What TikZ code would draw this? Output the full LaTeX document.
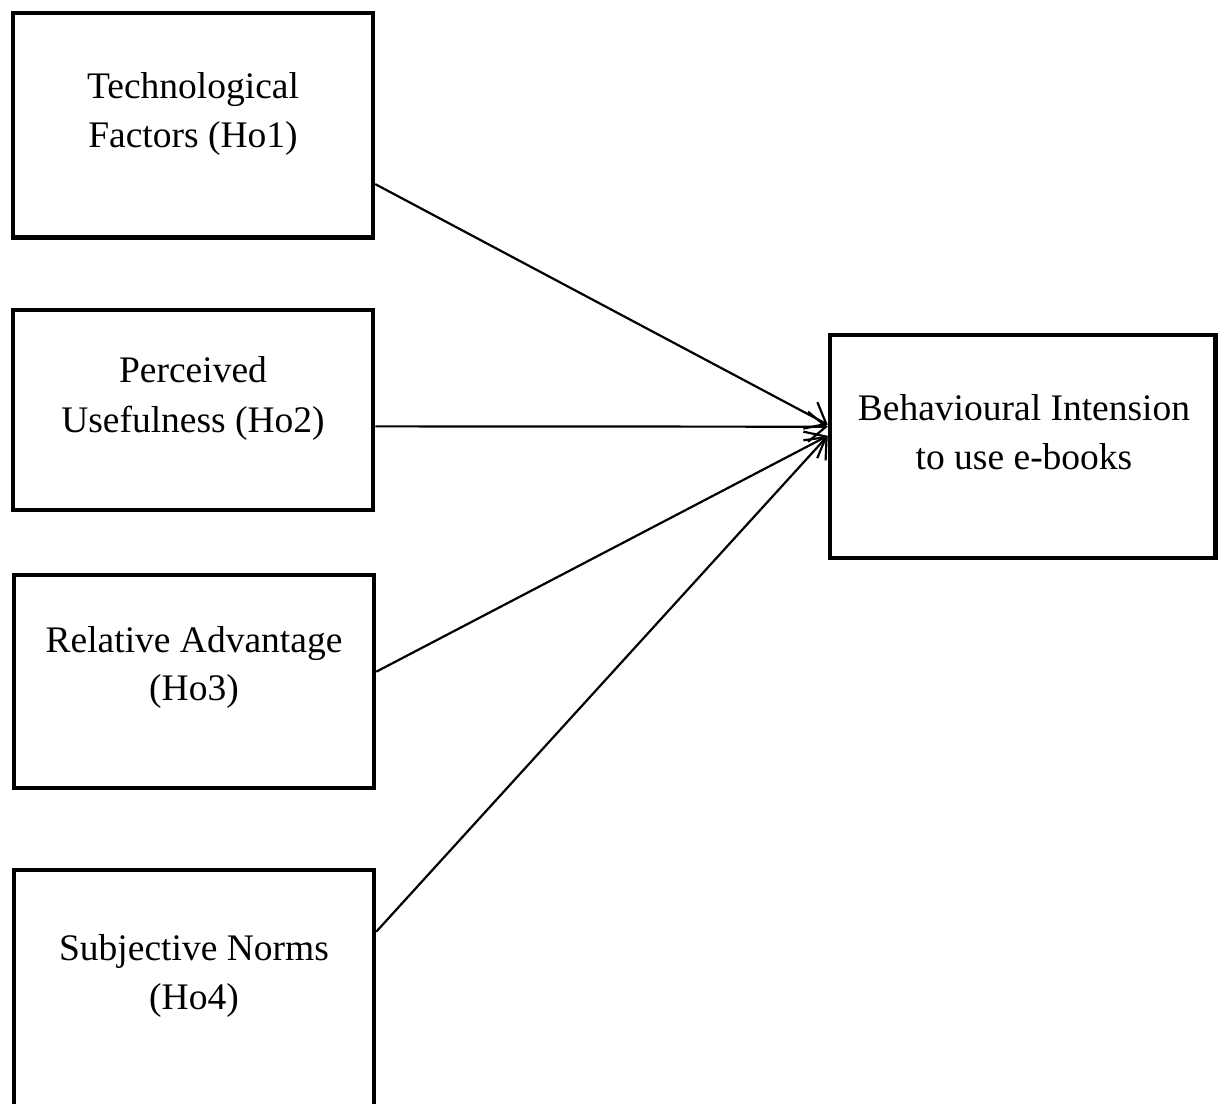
\documentclass[tikz,border=0pt]{standalone}
\usepackage{fontspec}
\setmainfont{Liberation Serif}
\usetikzlibrary{calc,arrows.meta}
\begin{document}
\begin{tikzpicture}[x=1pt,y=-1pt,
  boxstyle/.style={draw, line width=4.5pt, inner sep=0pt, minimum width=360pt},
  lbl/.style={anchor=base, inner sep=0pt, font=\fontsize{37.5}{50}\selectfont},
  link/.style={line width=2.2pt, -{Straight Barb[length=18pt,width=30pt,line width=2.2pt]}}]
\useasboundingbox (0,0) rectangle (1218,1103);
\clip (0,0) rectangle (1218,1103);
% boxes
\node[boxstyle, minimum height=224.5pt] (b1) at (193,125.25) {};
\node[boxstyle, minimum height=200pt] (b2) at (193,410) {};
\node[boxstyle, minimum height=213pt] (b3) at (194,681.5) {};
\node[boxstyle, minimum height=270pt] (b4) at (194,1005) {};
\node[boxstyle, minimum width=385.5pt, minimum height=223pt] (bt) at (1022.75,446.5) {};
% labels
\node[lbl] (t1a) at (193,98) {Technological};
\node[lbl] (t1b) at (193,147) {Factors (Ho1)};
\node[lbl] (t2a) at (193,382) {Perceived};
\node[lbl] (t2b) at (193,432) {Usefulness (Ho2)};
\node[lbl] (t3a) at (194,652) {Relative Advantage};
\node[lbl] (t3b) at (194,700) {(Ho3)};
\node[lbl] (t4a) at (194,960) {Subjective Norms};
\node[lbl] (t4b) at (194,1009) {(Ho4)};
\node[lbl] (tta) at (1024,420) {Behavioural Intension};
\node[lbl] (ttb) at (1024,469) {to use e-books};
% connector end points on the box borders
\coordinate (s1) at ($(b1.south east)!0.243!(b1.north east)$);
\coordinate (s2) at ($(b2.south east)!0.42!(b2.north east)$);
\coordinate (s3) at ($(b3.south east)!0.545!(b3.north east)$);
\coordinate (s4) at ($(b4.south east)!0.767!(b4.north east)$);
\coordinate (e1) at ($(bt.south west)!0.596!(bt.north west)$);
\coordinate (e2) at ($(bt.south west)!0.587!(bt.north west)$);
\coordinate (e3) at ($(bt.south west)!0.547!(bt.north west)$);
\coordinate (e4) at ($(bt.south west)!0.547!(bt.north west)$);
% connectors
\draw[link] (s1) -- (e1);
\draw[link] (s2) -- (e2);
\draw[link] (s3) -- (e3);
\draw[link] (s4) -- (e4);
\end{tikzpicture}
\end{document}
